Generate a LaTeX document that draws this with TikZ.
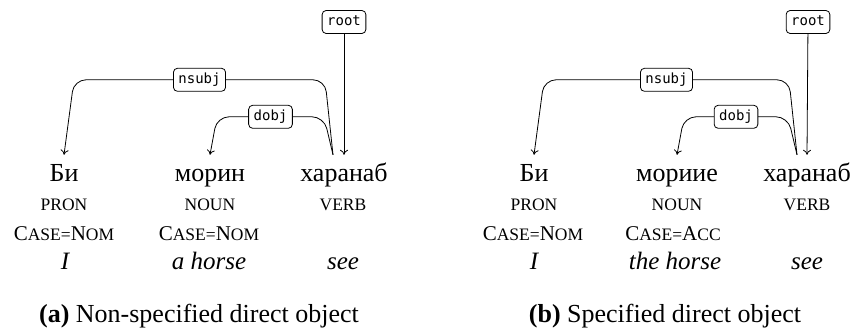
\documentclass[tikz,border=0pt]{standalone}
\usepackage{fontspec}
\setmainfont{Liberation Serif}
\newfontfamily\labfont{DejaVu Sans Mono}
\usetikzlibrary{arrows.meta,calc}
\newcommand\smc[1]{{\fontsize{17.5}{17.5}\selectfont #1}}
\tikzset{
  word/.style={anchor=base, inner xsep=0pt, inner ysep=9pt, text height=18pt, text depth=6pt, font=\fontsize{26}{26}\selectfont},
  posrow/.style={anchor=base, inner sep=0pt, font=\fontsize{17.5}{17.5}\selectfont},
  featrow/.style={anchor=base, inner sep=0pt, font=\fontsize{21}{21}\selectfont},
  glossrow/.style={anchor=base, inner sep=0pt, font=\fontsize{25}{25}\selectfont\itshape},
  lab/.style={draw, fill=white, rounded corners=4pt, line width=0.8pt, font=\labfont\fontsize{14}{14}\selectfont, inner xsep=5pt, inner ysep=4.5pt, text height=10.5pt, text depth=3.5pt},
  dep/.style={line width=0.8pt, rounded corners=12pt, -{To[length=5pt,width=8pt]}},
  captext/.style={anchor=base, inner sep=0pt, font=\fontsize{26}{26}\selectfont},
}
\begin{document}
\begin{tikzpicture}[x=1pt, y=-1pt]
\useasboundingbox (0,0) rectangle (856,336);
% ---------- panel (a) ----------
\node[word] (B1) at (64,182) {Би};
\node[word] (M1) at (210,182) {морин};
\node[word] (V1) at (344,182) {харанаб};
\node[posrow] (pB1) at (64,211) {PRON};
\node[posrow] (pM1) at (210,211) {NOUN};
\node[posrow] (pV1) at (343,211) {VERB};
\node[featrow] (fB1) at (64,241) {C\smc{ASE=}N\smc{OM}};
\node[featrow] (fM1) at (209,241) {C\smc{ASE=}N\smc{OM}};
\node[glossrow] (gB1) at (65,270) {I};
\node[glossrow] (gM1) at (209,270) {a horse};
\node[glossrow] (gV1) at (343,270) {see};
\coordinate (V1s) at ($(V1.north)+(-11,0)$);
\draw[dep] (V1s) -- ++(-8,-75) -- ($(B1.north)+(10,-75)$) node[lab, midway] (ns1) {nsubj} -- (B1.north);
\draw[dep] (V1s) -- ++(-9,-38) -- ($(M1.north)+(7,-38)$) node[lab, midway] (do1) {dobj} -- (M1.north);
\node[lab] (r1) at (344,22) {root};
\draw[dep] (r1) -- (V1.north);
\node[captext] (c1) at (199,323) {\textbf{(a)} Non-specified direct object};
% ---------- panel (b) ----------
\node[word] (B2) at (534,182) {Би};
\node[word] (M2) at (677,182) {мориие};
\node[word] (V2) at (807,182) {харанаб};
\node[posrow] (pB2) at (534,211) {PRON};
\node[posrow] (pM2) at (677,211) {NOUN};
\node[posrow] (pV2) at (807,211) {VERB};
\node[featrow] (fB2) at (533,241) {C\smc{ASE=}N\smc{OM}};
\node[featrow] (fM2) at (673,241) {C\smc{ASE=}A\smc{CC}};
\node[glossrow] (gB2) at (534,270) {I};
\node[glossrow] (gM2) at (675,270) {the horse};
\node[glossrow] (gV2) at (807,270) {see};
\coordinate (V2s) at ($(V2.north)+(-10,0)$);
\draw[dep] (V2s) -- ++(-8,-75) -- ($(B2.north)+(10,-75)$) node[lab, midway] (ns2) {nsubj} -- (B2.north);
\draw[dep] (V2s) -- ++(-9,-38) -- ($(M2.north)+(7,-38)$) node[lab, midway] (do2) {dobj} -- (M2.north);
\node[lab] (r2) at (808,22) {root};
\draw[dep] (r2) -- (V2.north);
\node[captext] (c2) at (665,323) {\textbf{(b)} Specified direct object};
\end{tikzpicture}
\end{document}
